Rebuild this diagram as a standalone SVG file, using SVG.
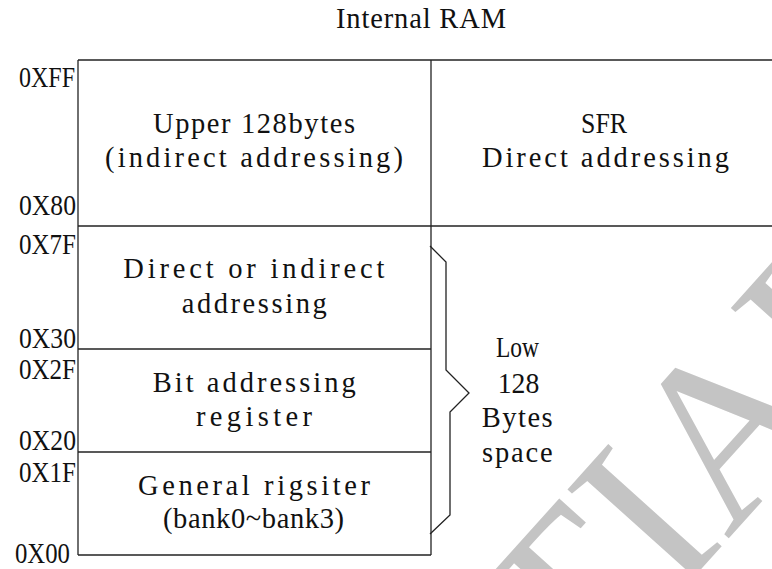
<svg xmlns="http://www.w3.org/2000/svg" width="772" height="569" viewBox="0 0 772 569">
<style>
  .t { font-family: "Liberation Serif", "Times New Roman", serif; font-size: 28.5px; fill: #111; }
  .ln { stroke: #222; stroke-width: 1.3; fill: none; }
  .wm { font-family: "Liberation Serif", serif; font-size: 233px; fill: #c4c4c4; }
</style>
<rect width="772" height="569" fill="#fff"/>
<g id="watermark">
  <text class="wm" transform="translate(580,703.5) rotate(-48)">TIAL</text>
</g>
<g id="title">
  <text class="t" x="336" y="27.5" textLength="170" lengthAdjust="spacing">Internal RAM</text>
</g>
<g id="frame">
  <line class="ln" x1="78" y1="60" x2="772" y2="60"/>
  <line class="ln" x1="78" y1="60" x2="78" y2="555"/>
  <line class="ln" x1="78" y1="226" x2="772" y2="226"/>
  <line class="ln" x1="431" y1="60" x2="431" y2="555"/>
  <line class="ln" x1="78" y1="555" x2="431" y2="555"/>
</g>
<g id="upper128">
  <text class="t" x="153" y="133" textLength="202" lengthAdjust="spacing">Upper 128bytes</text>
  <text class="t" x="105" y="167" textLength="298" lengthAdjust="spacing">(indirect addressing)</text>
</g>
<g id="sfr">
  <text class="t" x="581" y="133" textLength="46" lengthAdjust="spacingAndGlyphs">SFR</text>
  <text class="t" x="482" y="167" textLength="247" lengthAdjust="spacing">Direct addressing</text>
</g>
<g id="direct">
  <text class="t" x="123.3" y="278" textLength="261" lengthAdjust="spacing">Direct or indirect</text>
  <text class="t" x="181.7" y="313" textLength="145" lengthAdjust="spacing">addressing</text>
</g>
<g id="bit">
  <line class="ln" x1="78" y1="349" x2="431" y2="349"/>
  <text class="t" x="152.7" y="391.5" textLength="203" lengthAdjust="spacing">Bit addressing</text>
  <text class="t" x="196" y="426" textLength="116" lengthAdjust="spacing">register</text>
</g>
<g id="general">
  <line class="ln" x1="78" y1="452" x2="431" y2="452"/>
  <text class="t" x="138" y="495" textLength="232" lengthAdjust="spacing">General rigsiter</text>
  <text class="t" x="163" y="528" textLength="181" lengthAdjust="spacing">(bank0~bank3)</text>
</g>
<g id="addresses">
  <text class="t" x="19" y="87" textLength="56" lengthAdjust="spacingAndGlyphs">0XFF</text>
  <text class="t" x="19" y="215" textLength="57" lengthAdjust="spacingAndGlyphs">0X80</text>
  <text class="t" x="19" y="254" textLength="57" lengthAdjust="spacingAndGlyphs">0X7F</text>
  <text class="t" x="19" y="347.5" textLength="57" lengthAdjust="spacingAndGlyphs">0X30</text>
  <text class="t" x="19" y="378.5" textLength="57" lengthAdjust="spacingAndGlyphs">0X2F</text>
  <text class="t" x="19" y="450" textLength="57" lengthAdjust="spacingAndGlyphs">0X20</text>
  <text class="t" x="19" y="481.5" textLength="57" lengthAdjust="spacingAndGlyphs">0X1F</text>
  <text class="t" x="15" y="563" textLength="55" lengthAdjust="spacingAndGlyphs">0X00</text>
</g>
<g id="connectors">
  <path class="ln" d="M430,246 L446,262 L446,370 L469,393 L450,412 L450,515 L430,534"/>
</g>
<g id="low128">
  <text class="t" x="496" y="356.7" textLength="43" lengthAdjust="spacingAndGlyphs">Low</text>
  <text class="t" x="497.7" y="392.7" textLength="41.6" lengthAdjust="spacingAndGlyphs">128</text>
  <text class="t" x="481.7" y="427.3" textLength="71" lengthAdjust="spacing">Bytes</text>
  <text class="t" x="482" y="461.7" textLength="70.7" lengthAdjust="spacing">space</text>
</g>
</svg>
